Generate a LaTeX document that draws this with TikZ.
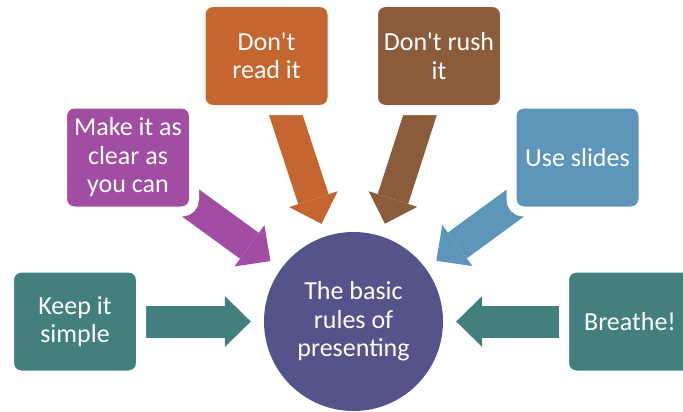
\documentclass[tikz,border=0pt]{standalone}
\usepackage{fontspec}
\setmainfont{Carlito}[Ligatures=TeXOff]
\usetikzlibrary{arrows.meta}
\usetikzlibrary{backgrounds}

\definecolor{tealbox}{HTML}{447F80}
\definecolor{rulesblue}{HTML}{54548A}
\definecolor{purplebox}{HTML}{A04DA3}
\definecolor{orangebox}{HTML}{C5652F}
\definecolor{brownbox}{HTML}{8B5C3C}
\definecolor{bluebox}{HTML}{5E95BA}

\begin{document}
\begin{tikzpicture}[x=1pt,y=-1pt]
            % everything points in to the circle in the middle
            \tikzstyle{block} = [rectangle, rounded corners=12pt, draw=white, line width=10pt, minimum width=132pt, minimum height=108pt, inner sep=0pt, text=white, align=center, font=\fontsize{26}{28.5}\selectfont];
            \tikzstyle{fat} = [line width=32pt, -{Triangle[width=51pt,length=26pt,line width=0pt]}, shorten >=13pt];

            \useasboundingbox (0,0) rectangle (683,412);

            \node[circle, fill=rulesblue, minimum size=179pt, inner sep=0pt, text=white, align=center, font=\fontsize{26}{28.5}\selectfont] (rules) at (353.5,321.5) {The basic\\rules of\\presenting};
            \node[block, fill=tealbox, left of=rules, node distance=278.5pt] (keep) {Keep it\\simple};
            \node[block, fill=tealbox, right of=rules, node distance=276.5pt] (breathe) {Breathe!};
            \node[block, fill=purplebox] (clear) at (128,157.5) {Make it as\\clear as\\you can};
            \node[block, fill=orangebox] (read) at (266.5,56) {Don't\\read it};
            \node[block, fill=brownbox] (rush) at (439,56) {Don't rush\\it};
            \node[block, fill=bluebox] (slides) at (577.5,157.5) {Use slides};

            \begin{pgfonlayer}{background}
            \draw[fat, draw=tealbox] (keep.center) -- (rules);
            \draw[fat, draw=purplebox] (clear.center) -- (rules);
            \draw[fat, draw=orangebox] (read.center) -- (rules);
            \draw[fat, draw=brownbox] (rush.center) -- (rules);
            \draw[fat, draw=bluebox] (slides.center) -- (rules);
            \draw[fat, draw=tealbox] (breathe.center) -- (rules);
            \end{pgfonlayer}

        \end{tikzpicture}
\end{document}
